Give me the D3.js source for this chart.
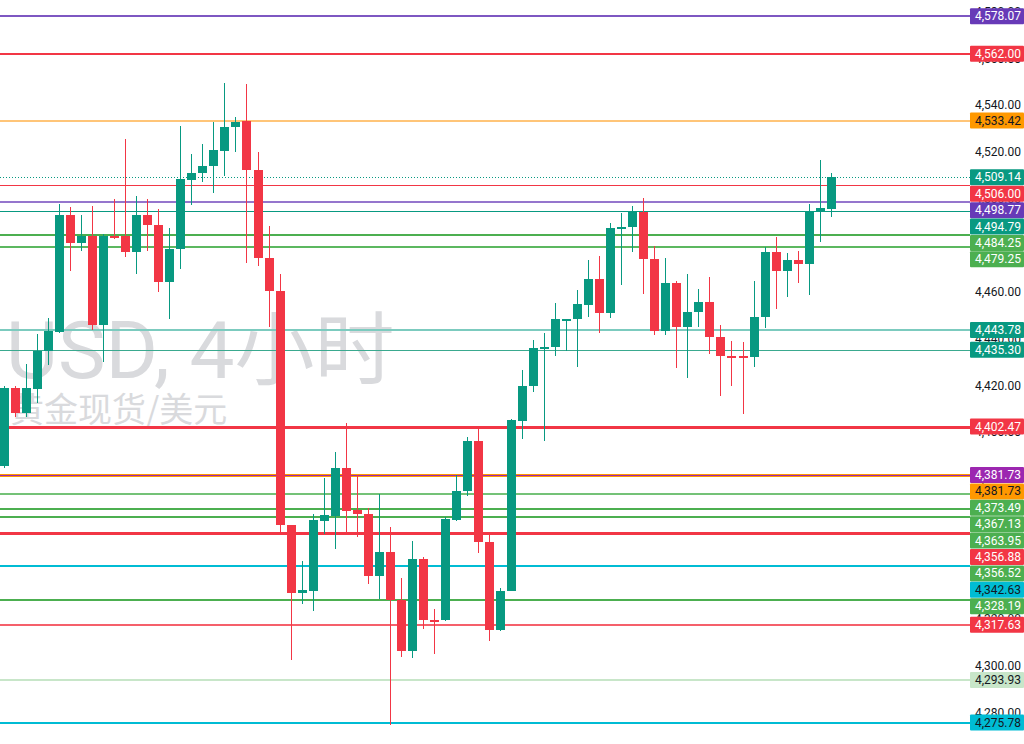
<!DOCTYPE html>
<html>
<head>
<meta charset="utf-8">
<script src="https://cdn.jsdelivr.net/npm/d3@7"></script>
<style>
  body { margin: 0; background: #fff; overflow: hidden; }
  svg { display: block; }
</style>
</head>
<body>
<div id="chart"></div>
<script>
// XAUUSD 4h candles, left to right
const opens = [4385.7, 4418.8, 4408.1, 4418.4, 4434.8, 4442.9, 4493.0, 4480.9, 4484.0, 4445.9,
  4484.0, 4484.0, 4477.2, 4493.0, 4488.7, 4464.3, 4478.5, 4508.0, 4510.9, 4513.9,
  4520.4, 4530.6, 4533.2, 4512.1, 4474.8, 4460.4, 4360.4, 4331.2, 4332.1, 4362.2,
  4364.0, 4384.8, 4366.8, 4365.0, 4338.7, 4348.8, 4328.1, 4306.3, 4345.9, 4319.6,
  4319.5, 4362.5, 4374.7, 4396.4, 4353.2, 4315.4, 4332.1, 4405.0, 4419.8, 4435.8,
  4436.4, 4448.1, 4448.4, 4454.5, 4465.5, 4451.2, 4487.2, 4488.0, 4494.2, 4474.2,
  4443.5, 4464.0, 4444.9, 4451.6, 4455.8, 4440.9, 4432.7, 4432.6, 4432.4, 4449.2,
  4477.3, 4468.9, 4473.6, 4472.2, 4494.3, 4495.7];
const highs = [4419.8, 4419.8, 4429.2, 4442.0, 4448.8, 4497.7, 4496.6, 4493.0, 4496.9, 4484.9,
  4499.7, 4525.5, 4501.3, 4499.7, 4495.6, 4487.3, 4531.1, 4519.1, 4523.3, 4532.8,
  4549.6, 4535.1, 4549.0, 4519.9, 4488.2, 4467.6, 4360.4, 4344.7, 4365.0, 4380.4,
  4391.5, 4404.1, 4381.6, 4367.6, 4373.5, 4359.6, 4337.5, 4353.3, 4346.5, 4324.5,
  4363.6, 4381.6, 4398.2, 4402.3, 4356.4, 4333.4, 4405.7, 4426.5, 4439.5, 4442.6,
  4455.5, 4448.7, 4460.9, 4473.8, 4475.5, 4489.5, 4494.0, 4496.9, 4500.2, 4479.7,
  4474.5, 4464.8, 4467.8, 4461.2, 4466.3, 4445.9, 4439.2, 4438.8, 4464.9, 4479.4,
  4483.7, 4476.9, 4477.5, 4497.7, 4516.6, 4510.9];
const lows = [4384.7, 4406.4, 4406.4, 4412.5, 4428.8, 4442.5, 4469.2, 4477.7, 4443.8, 4430.2,
  4482.9, 4475.2, 4467.6, 4477.7, 4460.2, 4448.4, 4469.8, 4497.3, 4507.3, 4502.6,
  4509.7, 4520.1, 4472.5, 4471.2, 4445.0, 4357.3, 4302.7, 4326.3, 4323.6, 4356.4,
  4350.1, 4356.8, 4355.0, 4335.2, 4328.5, 4274.5, 4303.8, 4303.3, 4315.9, 4305.1,
  4319.3, 4362.2, 4372.6, 4348.3, 4310.5, 4315.0, 4332.0, 4397.3, 4417.1, 4396.4,
  4432.7, 4434.8, 4427.8, 4449.5, 4442.4, 4448.8, 4463.0, 4477.0, 4459.2, 4441.6,
  4441.6, 4427.7, 4423.4, 4445.2, 4433.5, 4415.5, 4419.8, 4407.8, 4427.8, 4444.5,
  4452.6, 4458.0, 4463.8, 4458.8, 4481.6, 4492.3];
const closes = [4419.0, 4408.1, 4418.8, 4434.8, 4443.4, 4493.0, 4480.9, 4484.0, 4445.9, 4484.0,
  4483.6, 4477.2, 4493.0, 4488.7, 4464.3, 4478.5, 4508.4, 4511.1, 4514.1, 4520.7,
  4530.6, 4533.0, 4512.1, 4474.8, 4460.4, 4360.4, 4331.2, 4332.5, 4362.5, 4364.7,
  4384.8, 4366.3, 4365.0, 4338.7, 4348.8, 4328.1, 4306.3, 4345.9, 4319.5, 4319.3,
  4362.9, 4374.7, 4396.4, 4353.2, 4315.4, 4332.1, 4405.3, 4420.0, 4436.1, 4436.6,
  4448.5, 4448.6, 4454.8, 4465.5, 4451.2, 4487.3, 4488.0, 4494.2, 4474.2, 4443.5,
  4464.0, 4444.9, 4451.6, 4455.8, 4440.9, 4432.7, 4432.5, 4432.4, 4449.2, 4477.3,
  4468.9, 4473.6, 4472.2, 4494.2, 4495.9, 4509.1];

// horizontal price levels (top to bottom)
const levelPrices = [4578.07, 4562.00, 4533.42, 4509.14, 4506.00, 4498.77, 4494.79, 4484.25,
  4479.25, 4443.78, 4435.30, 4402.47, 4381.73, 4381.73, 4373.49, 4367.13, 4363.95, 4356.88,
  4356.52, 4342.63, 4328.19, 4317.63, 4293.93, 4275.78];

// price axis ticks
const tickValues = [4280, 4300, 4320, 4340, 4360, 4380, 4400, 4420, 4440, 4460,
  4480, 4500, 4520, 4540, 4560, 4580];

const watermarkTitle = "USD, 4小时";
const watermarkSub = "黄金现货/美元";

// styling for each level, same order as levelPrices
const lineColors = ["#7e57c2", "#f23645", "#ffc578", "#089981", "#f23645", "#9575cd", "#089981", "#4caf50",
  "#5cb860", "#7ccbbf", "#3aa98f", "#f23645", "#9c27b0", "#ff9800", "#74c277", "#4caf50", "#4caf50", "#f23645",
  "#4caf50", "#00bcd4", "#4caf50", "#f5606b", "#c8e6c9", "#00bcd4"];
const lineWidths = [2, 2, 2, 1, 1, 2, 1, 2, 2, 2, 1, 3, 1, 3, 2, 2, 2, 3, 2, 2, 2, 2, 2, 2];
const labelColors = ["#673ab7", "#f23645", "#ff9800", "#089981", "#f23645", "#673ab7", "#089981", "#4caf50",
  "#4caf50", "#089981", "#089981", "#f23645", "#9c27b0", "#ff9800", "#4caf50", "#4caf50", "#4caf50", "#f23645",
  "#4caf50", "#00bcd4", "#4caf50", "#f23645", "#c8e6c9", "#00bcd4"];
const darkLabels = new Set(["#ff9800", "#00bcd4", "#c8e6c9"]);

const width = 1024, height = 744;
const axisLeft = 970;
const up = "#089981", down = "#f23645";

const svg = d3.select("#chart").append("svg")
  .attr("width", width)
  .attr("height", height);

const y = d3.scaleLinear().domain([4275.78, 4578.07]).range([722.5, 16.3]);
const x = d3.scalePoint().domain(d3.range(closes.length)).range([4, 830.7]);
const fmt = d3.format(",.2f");

// watermark
const wm = svg.append("g").attr("fill", "#d9dadd");
wm.append("text")
  .attr("x", 6).attr("y", 378)
  .style("font-family", "Roboto, 'Noto Sans CJK SC', sans-serif")
  .style("font-size", "80px")
  .text(watermarkTitle);
wm.append("text")
  .attr("x", 10).attr("y", 422)
  .style("font-family", "'Noto Sans CJK SC', sans-serif")
  .style("font-size", "34px")
  .text(watermarkSub);

// levels, drawn bottom first so the upper of two close lines sits on top
const levels = levelPrices.map((p, i) => ({
  price: p, color: lineColors[i], w: lineWidths[i], bg: labelColors[i], i: i
}));

const snap = (v, w) => Math.round(v) + (w % 2 ? 0.5 : 0);

svg.append("g")
  .selectAll("line")
  .data(levels.slice().reverse())
  .join("line")
  .attr("x1", 0)
  .attr("x2", axisLeft)
  .attr("y1", d => snap(y(d.price), d.w))
  .attr("y2", d => snap(y(d.price), d.w))
  .attr("stroke", d => d.color)
  .attr("stroke-width", d => d.w)
  .attr("stroke-dasharray", d => d.i === 3 ? "1,2" : null);

// candles
const candles = svg.append("g")
  .attr("shape-rendering", "crispEdges")
  .selectAll("g")
  .data(closes.map((c, i) => ({ o: opens[i], h: highs[i], l: lows[i], c: c, i: i })))
  .join("g")
  .attr("fill", d => d.c >= d.o ? up : down);

candles.append("rect")
  .attr("x", d => Math.round(x(d.i)))
  .attr("width", 1)
  .attr("y", d => Math.round(y(d.h)))
  .attr("height", d => Math.max(1, Math.round(y(d.l)) - Math.round(y(d.h))));

candles.append("rect")
  .attr("x", d => Math.round(x(d.i)) - 4)
  .attr("width", 9)
  .attr("y", d => Math.round(y(Math.max(d.o, d.c))))
  .attr("height", d => Math.max(2, Math.round(y(Math.min(d.o, d.c))) - Math.round(y(Math.max(d.o, d.c)))));

// price axis tick labels
svg.append("g")
  .selectAll("text")
  .data(tickValues)
  .join("text")
  .attr("x", 1021)
  .attr("y", d => y(d))
  .attr("text-anchor", "end")
  .attr("dominant-baseline", "central")
  .attr("fill", "#131722")
  .style("font-family", "Roboto, 'Liberation Sans', sans-serif")
  .style("font-size", "12px")
  .text(d => fmt(d));

// level labels stacked so they don't overlap
const labelH = 16, labelGap = 16.4;
let prev = -Infinity;
levels.forEach(d => {
  d.ly = Math.max(y(d.price), prev + labelGap);
  prev = d.ly;
});

const tags = svg.append("g")
  .selectAll("g")
  .data(levels)
  .join("g")
  .attr("transform", d => `translate(0,${d.ly})`);

tags.append("rect")
  .attr("x", axisLeft)
  .attr("y", -labelH / 2)
  .attr("width", width - axisLeft)
  .attr("height", labelH)
  .attr("rx", 1)
  .attr("fill", d => d.bg);

tags.append("text")
  .attr("x", 1021)
  .attr("y", 0)
  .attr("text-anchor", "end")
  .attr("dominant-baseline", "central")
  .attr("fill", d => darkLabels.has(d.bg) ? "#131722" : "#ffffff")
  .style("font-family", "Roboto, 'Liberation Sans', sans-serif")
  .style("font-size", "12px")
  .text(d => fmt(d.price));
</script>
</body>
</html>
